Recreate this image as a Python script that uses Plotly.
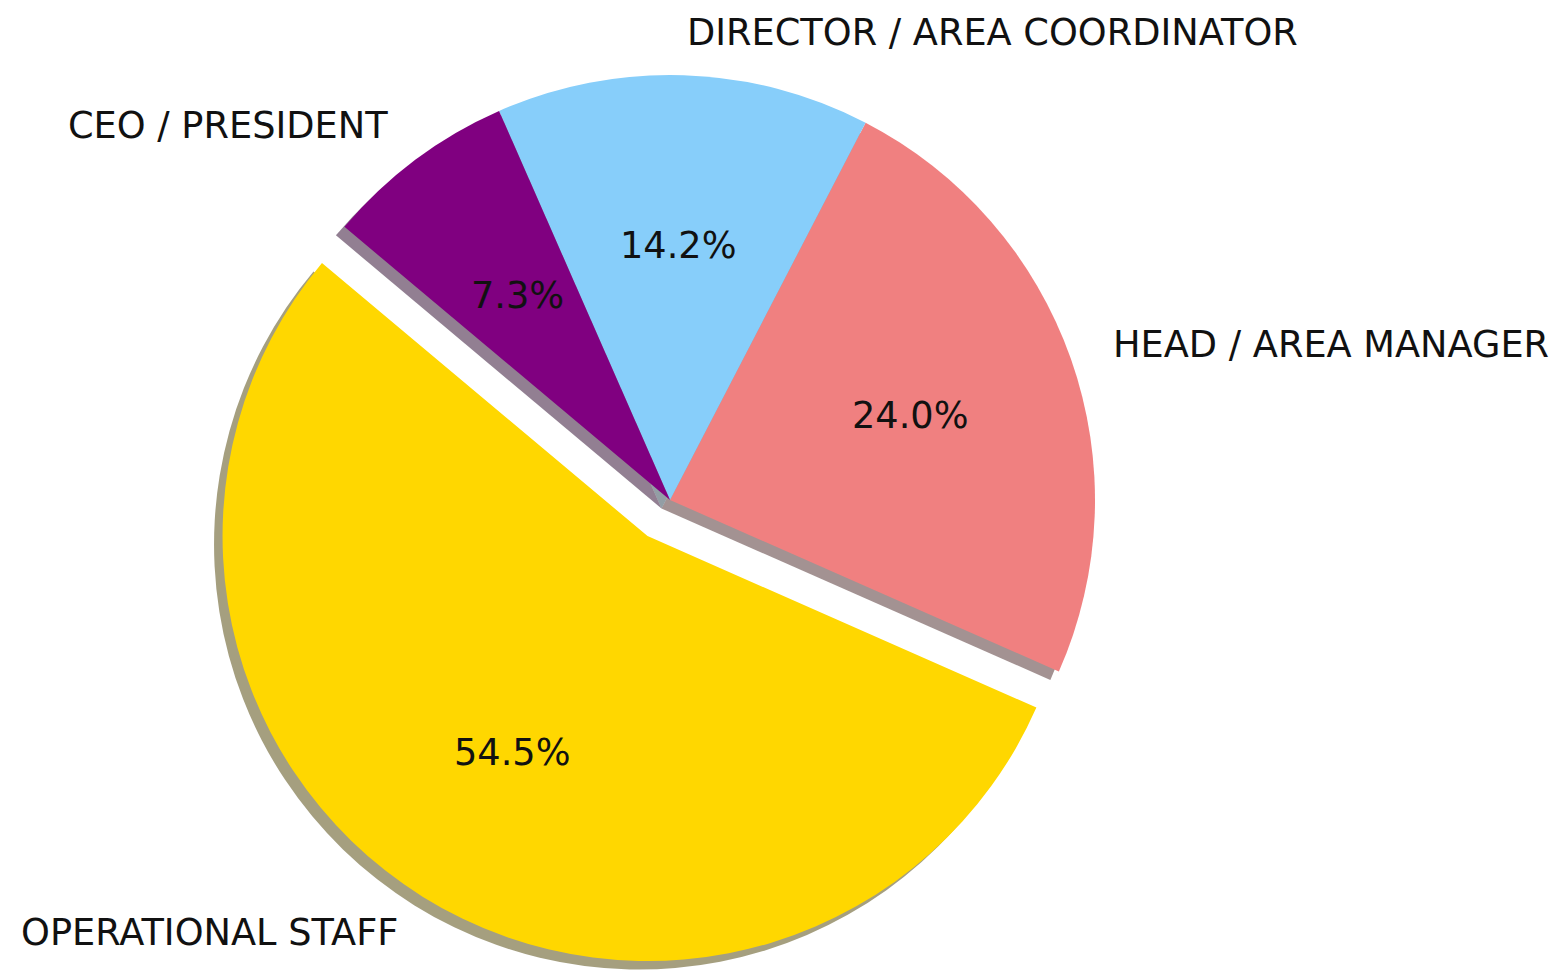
import math
import plotly.graph_objects as go

# ---- data ----
labels = ["OPERATIONAL STAFF", "HEAD / AREA MANAGER", "DIRECTOR / AREA COORDINATOR", "CEO / PRESIDENT"]
values = [54.5, 24.0, 14.2, 7.3]
colors = ["#FFD700", "#F08080", "#87CEFA", "#800080"]
explode = [0.1, 0.0, 0.0, 0.0]
start_angle = 140  # degrees, counterclockwise from 3 o'clock

# ---- layout geometry ----
W, H = 1557, 975
page_off = 8                      # default body margin of the html page
cx_px, cy_px = 670 - page_off, 500 - page_off   # pie centre (pixels, figure coords)
r_px = 425                        # pie radius
max_pull = max(explode)
half_box = r_px * (1 + max_pull)
shadow_off = 0.02 * r_px

def dom(dx=0.0, dy=0.0):
    xc = cx_px + dx
    yc = H - (cy_px + dy)
    hb = min(half_box, yc, H - yc, xc, W - xc)
    return dict(x=[(xc - hb) / W, (xc + hb) / W], y=[(yc - hb) / H, (yc + hb) / H])

total = sum(values)
rotation = 90 - start_angle - values[0] / total * 360

def shadow_col(hexc):
    r = int(hexc[1:3], 16); g = int(hexc[3:5], 16); b = int(hexc[5:7], 16)
    return "rgba(%d,%d,%d,0.5)" % (r * 0.3, g * 0.3, b * 0.3)

fig = go.Figure()
fig.add_trace(go.Pie(
    labels=labels, values=values, sort=False, direction="counterclockwise",
    rotation=rotation, pull=explode, textinfo="none", hoverinfo="skip",
    marker=dict(colors=[shadow_col(c) for c in colors], line=dict(width=0)),
    domain=dom(-shadow_off, shadow_off), showlegend=False,
))
fig.add_trace(go.Pie(
    labels=labels, values=values, sort=False, direction="counterclockwise",
    rotation=rotation, pull=explode, textinfo="none",
    marker=dict(colors=colors, line=dict(width=0)),
    domain=dom(), showlegend=False,
))

# ---- labels (matplotlib-style placement) ----
annotations = []
theta = start_angle
font = dict(family="DejaVu Sans", size=36.7, color="#111111")
for lab, v, ex in zip(labels, values, explode):
    span = v / total * 360
    mid = math.radians(theta + span / 2)
    theta += span
    ox = cx_px + ex * r_px * math.cos(mid)
    oy = cy_px - ex * r_px * math.sin(mid)
    # category label at 1.1 r
    lx = ox + 1.1 * r_px * math.cos(mid)
    ly = oy - 1.1 * r_px * math.sin(mid)
    annotations.append(dict(
        x=lx / W, y=1 - ly / H, xref="paper", yref="paper", text=lab,
        showarrow=False, xanchor="left" if math.cos(mid) > 0 else "right",
        yanchor="middle", font=font,
    ))
    # percentage at 0.6 r
    px = ox + 0.6 * r_px * math.cos(mid)
    py = oy - 0.6 * r_px * math.sin(mid)
    annotations.append(dict(
        x=px / W, y=1 - py / H, xref="paper", yref="paper", text="%.1f%%" % v,
        showarrow=False, xanchor="center", yanchor="middle", font=font,
    ))

fig.update_layout(
    width=W, height=H, margin=dict(l=0, r=0, t=0, b=0),
    paper_bgcolor="white", plot_bgcolor="white",
    annotations=annotations,
)
fig.write_html("out.html")
